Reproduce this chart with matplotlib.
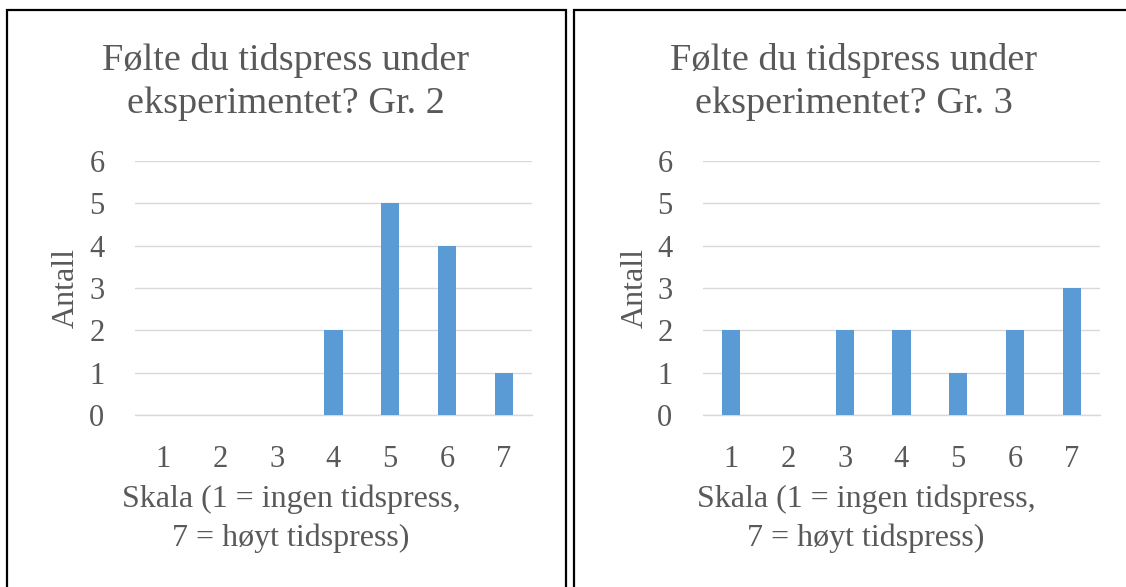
import matplotlib
matplotlib.use("Agg")
import matplotlib.pyplot as plt
from matplotlib.patches import Rectangle

categories = [1, 2, 3, 4, 5, 6, 7]
gr2_values = [0, 0, 0, 2, 5, 4, 1]
gr3_values = [2, 0, 2, 2, 1, 2, 3]
y_ticks = [0, 1, 2, 3, 4, 5, 6]
title_lines_gr2 = ["Følte du tidspress under", "eksperimentet? Gr. 2"]
title_lines_gr3 = ["Følte du tidspress under", "eksperimentet? Gr. 3"]
xlabel_lines = ["Skala (1 = ingen tidspress,", "7 = høyt tidspress)"]
ylabel = "Antall"

W, H = 1126, 587
plt.rcParams['font.family'] = ['Liberation Serif', 'DejaVu Serif']
TXT = '#595959'
BAR = '#5B9BD5'
GRID = '#D9D9D9'

fig = plt.figure(figsize=(W / 100, H / 100), dpi=100)

def fx(px):
    return px / W

def fy(py):
    return 1 - py / H

def panel(values, title_lines, ax_left, ax_right, title_cx, xlab_cx, ylab_x, border_left, border_right):
    ax = fig.add_axes([fx(ax_left), fy(415), fx(ax_right - ax_left), fy(161) - fy(415)])
    ax.bar(categories, values, width=0.32, color=BAR, zorder=3)
    ax.set_xlim(0.5, 7.5)
    ax.set_ylim(0, 6)
    ax.set_yticks(y_ticks)
    ax.set_xticks(categories)
    ax.grid(axis='y', color=GRID, linewidth=1.0, zorder=0)
    for s in ['top', 'right', 'left']:
        ax.spines[s].set_visible(False)
    ax.spines['bottom'].set_color(GRID)
    ax.spines['bottom'].set_linewidth(1.0)
    ax.tick_params(axis='both', length=0, labelsize=22, colors=TXT)
    ax.tick_params(axis='x', pad=21.5)
    ax.tick_params(axis='y', pad=22)
    # titles
    fig.text(fx(title_cx), fy(61), title_lines[0], ha='center', va='center', fontsize=27.5, color=TXT)
    fig.text(fx(title_cx), fy(104), title_lines[1], ha='center', va='center', fontsize=27.5, color=TXT)
    # x label
    fig.text(fx(xlab_cx), fy(499), xlabel_lines[0], ha='center', va='center', fontsize=23, color=TXT)
    fig.text(fx(xlab_cx), fy(538), xlabel_lines[1], ha='center', va='center', fontsize=23, color=TXT)
    # y label
    fig.text(fx(ylab_x), fy(288), ylabel, ha='center', va='center', rotation=90, fontsize=23, color=TXT)
    # border
    rect = Rectangle((fx(border_left), fy(H + 20)), fx(border_right - border_left), fy(9.5) - fy(H + 20),
                     transform=fig.transFigure, fill=False, edgecolor='black', linewidth=1.6, clip_on=False)
    fig.patches.append(rect)

panel(gr2_values, title_lines_gr2, 135, 532, 286, 291, 66, 6.5, 565.5)
panel(gr3_values, title_lines_gr3, 703, 1100, 854, 866, 635, 573.5, 1140)

fig.savefig('out.png', dpi=100)
